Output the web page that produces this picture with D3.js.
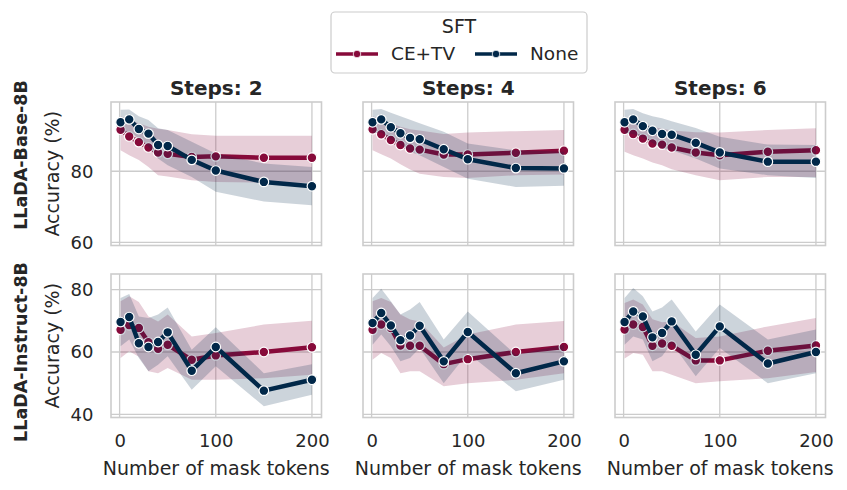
<!DOCTYPE html>
<html>
<head>
<meta charset="utf-8">
<script src="https://cdn.jsdelivr.net/npm/d3@7"></script>
<style>
  body { margin: 0; background: #fff; }
  text { font-family: "DejaVu Sans", sans-serif; fill: #262626; }
</style>
</head>
<body>
<div id="chart"></div>
<script>
// data
var maskTokens = [1, 10, 20, 30, 40, 50, 75, 100, 150, 200];
var steps = [2, 4, 6];
var models = ["LLaDA-Base-8B", "LLaDA-Instruct-8B"];
var sftNames = ["CE+TV", "None"];
var xTicks = [0, 100, 200];
var yTicks = [[60, 80], [40, 60, 80]];

// LLaDA-Base-8B, one list per steps value
var baseCeTvMean = [
  [91.7, 89.8, 88.2, 86.7, 85.3, 84.9, 84.0, 84.2, 83.8, 83.8],
  [91.8, 90.4, 88.8, 87.4, 86.4, 86.1, 84.7, 84.7, 85.2, 85.8],
  [91.7, 90.5, 89.2, 87.8, 87.5, 86.7, 85.3, 84.5, 85.5, 85.9]];
var baseCeTvLo = [
  [85.9, 84.5, 83.2, 81.2, 78.9, 78.5, 77.5, 77.0, 76.8, 76.8],
  [85.9, 84.8, 83.6, 82.0, 80.5, 79.3, 78.4, 78.1, 78.9, 79.1],
  [85.5, 84.5, 83.6, 82.5, 81.7, 80.6, 78.9, 77.5, 78.4, 78.4]];
var baseCeTvHi = [
  [95.5, 94.5, 93.5, 92.5, 92.0, 91.6, 90.4, 90.0, 90.0, 90.0],
  [95.5, 94.5, 93.5, 92.5, 91.8, 91.5, 90.5, 90.9, 91.3, 91.6],
  [95.3, 94.5, 93.5, 92.5, 92.0, 91.5, 91.0, 90.9, 91.6, 92.1]];
var baseNoneMean = [
  [93.8, 94.6, 91.9, 90.6, 87.4, 87.1, 83.2, 80.2, 77.0, 75.8],
  [93.8, 94.6, 92.4, 90.7, 89.4, 89.0, 86.2, 83.4, 80.9, 80.8],
  [93.8, 94.6, 92.7, 91.4, 90.5, 90.3, 88.0, 85.3, 82.7, 82.7]];
var baseNoneLo = [
  [90.7, 91.1, 89.2, 86.9, 83.6, 81.7, 78.4, 74.2, 71.5, 70.4],
  [90.7, 91.0, 89.0, 87.5, 85.5, 84.5, 81.2, 77.9, 75.6, 75.9],
  [90.7, 90.5, 89.5, 88.0, 86.4, 85.9, 83.6, 80.8, 78.9, 78.1]];
var baseNoneHi = [
  [97.3, 97.4, 95.5, 94.4, 92.1, 91.6, 88.3, 85.0, 82.2, 81.2],
  [97.3, 97.5, 96.5, 95.5, 94.5, 93.5, 91.1, 87.8, 85.9, 85.5],
  [97.3, 97.5, 96.3, 95.5, 94.9, 94.1, 92.2, 89.7, 87.5, 87.4]];

// LLaDA-Instruct-8B
var instCeTvMean = [
  [67.1, 68.6, 67.7, 63.1, 61.0, 62.3, 57.5, 58.9, 60.0, 61.5],
  [67.1, 68.8, 67.7, 62.1, 62.0, 62.0, 56.1, 57.7, 60.0, 61.6],
  [67.2, 68.8, 68.0, 62.0, 62.7, 62.0, 57.3, 57.3, 60.4, 62.1]];
var instCeTvLo = [
  [58.1, 60.2, 58.5, 53.8, 53.2, 54.9, 51.1, 51.1, 51.6, 52.7],
  [57.5, 59.7, 58.1, 53.2, 53.8, 53.8, 49.0, 50.0, 51.1, 53.2],
  [57.9, 59.7, 59.1, 53.8, 53.8, 52.7, 50.0, 50.6, 51.6, 53.6]];
var instCeTvHi = [
  [76.3, 77.9, 76.0, 71.4, 69.8, 72.0, 65.0, 66.1, 68.8, 70.0],
  [76.3, 77.3, 76.0, 72.0, 70.4, 69.8, 61.4, 65.6, 68.8, 69.9],
  [75.7, 76.8, 75.2, 70.5, 69.5, 69.8, 64.5, 65.0, 68.2, 70.9]];
var instNoneMean = [
  [69.6, 71.2, 62.8, 61.6, 63.2, 66.3, 54.0, 61.6, 47.6, 51.1],
  [69.3, 72.5, 68.5, 63.8, 65.3, 68.4, 57.0, 66.4, 53.2, 57.0],
  [69.6, 73.0, 71.4, 64.7, 66.1, 69.8, 59.1, 68.2, 56.3, 60.0]];
var instNoneLo = [
  [61.8, 64.0, 58.1, 53.8, 55.9, 58.6, 47.9, 55.4, 42.6, 46.3],
  [62.3, 65.6, 61.8, 57.0, 58.1, 61.3, 50.0, 59.7, 47.4, 51.1],
  [62.3, 65.0, 64.0, 57.0, 58.6, 62.9, 52.2, 61.3, 50.0, 53.2]];
var instNoneHi = [
  [77.3, 78.6, 71.4, 70.9, 72.0, 74.3, 60.7, 67.9, 53.2, 56.1],
  [77.3, 80.3, 76.3, 72.0, 73.6, 76.0, 64.0, 73.0, 59.1, 62.3],
  [77.3, 80.5, 77.9, 73.0, 74.3, 76.8, 66.6, 75.2, 64.0, 67.2]];

var colors = ["#870a3a", "#012849"];

// tables per model row: [series][stat][step]
var table = [
  [[baseCeTvMean, baseCeTvLo, baseCeTvHi], [baseNoneMean, baseNoneLo, baseNoneHi]],
  [[instCeTvMean, instCeTvLo, instCeTvHi], [instNoneMean, instNoneLo, instNoneHi]]
];

var width = 847, height = 490;
var colX = [111, 363, 615], panelW = 210.5;
var rowY = [102, 274], panelH = 143.5;
var yDomains = [[59.1, 99.5], [39.0, 85.0]];
var rowLabelY = [155, 352]; // the row names are not centred on the panels

var svg = d3.select("#chart").append("svg")
  .attr("width", width).attr("height", height);

models.forEach(function(model, r) {
  steps.forEach(function(step, c) {
    var x = d3.scaleLinear().domain([-8.95, 209.95]).range([colX[c], colX[c] + panelW]);
    var y = d3.scaleLinear().domain(yDomains[r]).range([rowY[r] + panelH, rowY[r]]);
    var g = svg.append("g");

    // grid
    g.selectAll(".gx").data(xTicks).join("line")
      .attr("x1", d => x(d)).attr("x2", d => x(d))
      .attr("y1", rowY[r]).attr("y2", rowY[r] + panelH)
      .attr("stroke", "#cccccc").attr("stroke-width", 1.3);
    g.selectAll(".gy").data(yTicks[r]).join("line")
      .attr("x1", colX[c]).attr("x2", colX[c] + panelW)
      .attr("y1", d => y(d)).attr("y2", d => y(d))
      .attr("stroke", "#cccccc").attr("stroke-width", 1.3);

    table[r].forEach(function(s, k) {
      var pts = maskTokens.map(function(t, i) {
        return { x: t, m: s[0][c][i], lo: s[1][c][i], hi: s[2][c][i] };
      });
      g.append("path").datum(pts)
        .attr("fill", colors[k]).attr("fill-opacity", 0.2)
        .attr("d", d3.area().x(d => x(d.x)).y0(d => y(d.lo)).y1(d => y(d.hi)));
      g.append("path").datum(pts)
        .attr("fill", "none").attr("stroke", colors[k]).attr("stroke-width", 4.5)
        .attr("stroke-linejoin", "round")
        .attr("d", d3.line().x(d => x(d.x)).y(d => y(d.m)));
      g.selectAll(null).data(pts).join("circle")
        .attr("cx", d => x(d.x)).attr("cy", d => y(d.m)).attr("r", 4.8)
        .attr("fill", colors[k]).attr("stroke", "#fff").attr("stroke-width", 1.2);
    });

    // frame
    g.append("rect")
      .attr("x", colX[c]).attr("y", rowY[r]).attr("width", panelW).attr("height", panelH)
      .attr("fill", "none").attr("stroke", "#cccccc").attr("stroke-width", 1.6);

    if (r == 0) {
      svg.append("text")
        .attr("x", colX[c] + panelW / 2).attr("y", 95)
        .attr("text-anchor", "middle").attr("font-size", 20).attr("font-weight", "bold")
        .text("Steps: " + step);
    }
    if (r == models.length - 1) {
      var ax = svg.append("g")
        .attr("transform", "translate(0," + (rowY[r] + panelH) + ")")
        .call(d3.axisBottom(x).tickValues(xTicks).tickSize(0).tickPadding(17));
      ax.select(".domain").remove();
      ax.selectAll("text").attr("font-size", 18).attr("fill", "#262626")
        .attr("font-family", "DejaVu Sans");
      svg.append("text")
        .attr("x", colX[c] + panelW / 2).attr("y", 475)
        .attr("text-anchor", "middle").attr("font-size", 19)
        .text("Number of mask tokens");
    }
    if (c == 0) {
      var ay = svg.append("g")
        .attr("transform", "translate(" + colX[c] + ",0)")
        .call(d3.axisLeft(y).tickValues(yTicks[r]).tickSize(0).tickPadding(17.5));
      ay.select(".domain").remove();
      ay.selectAll("text").attr("font-size", 18).attr("fill", "#262626")
        .attr("font-family", "DejaVu Sans");
      var cy = rowY[r] + panelH / 2;
      svg.append("text")
        .attr("transform", "translate(59," + cy + ") rotate(-90)")
        .attr("text-anchor", "middle").attr("font-size", 19)
        .text("Accuracy (%)");
      svg.append("text")
        .attr("transform", "translate(27," + rowLabelY[r] + ") rotate(-90)")
        .attr("text-anchor", "middle").attr("font-size", 17.5).attr("font-weight", "bold")
        .text(model);
    }
  });
});

// legend
var lg = svg.append("g");
lg.append("rect")
  .attr("x", 331).attr("y", 12).attr("width", 256).attr("height", 61).attr("rx", 4)
  .attr("fill", "#fff").attr("stroke", "#cccccc").attr("stroke-width", 1.2);
lg.append("text").attr("x", 459).attr("y", 33).attr("text-anchor", "middle")
  .attr("font-size", 19).text("SFT");
var entryX = [336, 475];
sftNames.forEach(function(name, k) {
  var ex = entryX[k];
  lg.append("line").attr("x1", ex).attr("x2", ex + 42).attr("y1", 54).attr("y2", 54)
    .attr("stroke", colors[k]).attr("stroke-width", 3.5);
  lg.append("circle").attr("cx", ex + 21).attr("cy", 54).attr("r", 3.8)
    .attr("fill", colors[k]).attr("stroke", "#fff").attr("stroke-width", 0.8);
  lg.append("text").attr("x", ex + 55).attr("y", 54).attr("dy", "0.35em")
    .attr("font-size", 18.5).text(name);
});
</script>
</body>
</html>
